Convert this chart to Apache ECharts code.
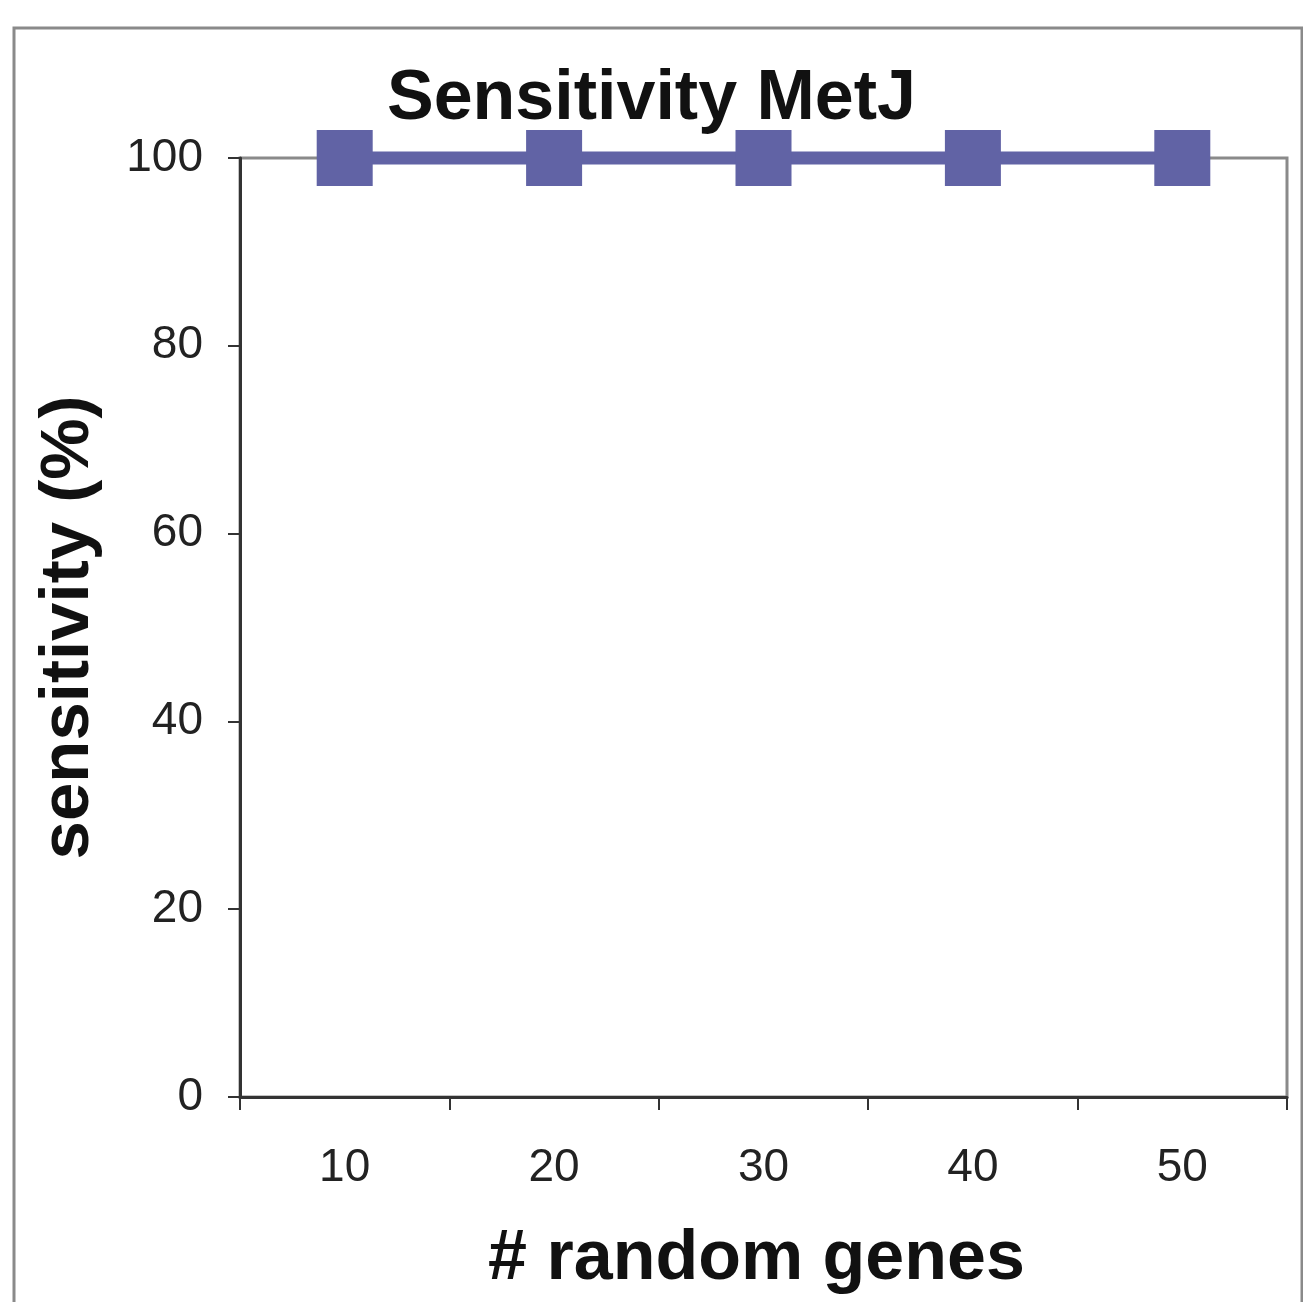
<!DOCTYPE html>
<html>
<head>
<meta charset="utf-8">
<script src="https://cdn.jsdelivr.net/npm/echarts@6/dist/echarts.min.js"></script>
<style>
html,body{margin:0;padding:0;background:#fff;}
#chart{width:1303px;height:1302px;}
</style>
</head>
<body>
<div id="chart"></div>
<script>
const categories = ['10', '20', '30', '40', '50'];
const sensitivity = [100, 100, 100, 100, 100];
const yTicks = { min: 0, max: 100, interval: 20 };

const chart = echarts.init(document.getElementById('chart'), null, { renderer: 'canvas' });
const FONT = '"Liberation Sans", Arial, Helvetica, sans-serif';

chart.setOption({
  backgroundColor: '#ffffff',
  animation: false,
  title: {
    text: 'Sensitivity MetJ',
    left: 'center',
    top: 60,
    textStyle: { fontFamily: FONT, fontSize: 70, fontWeight: 'bold', color: '#111', lineHeight: 70 }
  },
  graphic: [{
    type: 'rect',
    shape: { x: 14, y: 28, width: 1288, height: 1320 },
    style: { fill: 'none', stroke: '#8a8a8a', lineWidth: 3 },
    z: -1
  }],
  grid: {
    left: 240, right: 16, top: 158, bottom: 205,
    show: true, borderColor: '#8a8a8a', borderWidth: 3, backgroundColor: 'transparent'
  },
  xAxis: {
    type: 'category',
    data: categories,
    boundaryGap: true,
    name: '# random genes',
    nameLocation: 'middle',
    nameGap: 128,
    nameTextStyle: { fontFamily: FONT, fontSize: 70, fontWeight: 'bold', color: '#111', lineHeight: 70, padding: [0, 14, 0, 0] },
    axisLine: { show: true, lineStyle: { color: '#333', width: 3 } },
    axisTick: { show: true, inside: false, length: 13, lineStyle: { color: '#333', width: 2 } },
    axisLabel: { margin: 48, fontFamily: FONT, fontSize: 46, color: '#222', lineHeight: 46 },
    splitLine: { show: false }
  },
  yAxis: {
    type: 'value',
    min: yTicks.min, max: yTicks.max, interval: yTicks.interval,
    name: 'sensitivity (%)',
    nameLocation: 'middle',
    nameGap: 137,
    nameTextStyle: { fontFamily: FONT, fontSize: 69, fontWeight: 'bold', color: '#111', lineHeight: 69 },
    axisLine: { show: true, lineStyle: { color: '#333', width: 3 } },
    axisTick: { show: true, inside: false, length: 12, lineStyle: { color: '#333', width: 2 } },
    axisLabel: { margin: 37, fontFamily: FONT, fontSize: 46, color: '#222' },
    splitLine: { show: false }
  },
  series: [{
    type: 'line',
    data: sensitivity,
    clip: false,
    symbol: 'rect',
    symbolSize: 56,
    showAllSymbol: true,
    itemStyle: { color: '#6163a5' },
    lineStyle: { color: '#6163a5', width: 13 },
    z: 5
  }]
});
</script>
</body>
</html>
